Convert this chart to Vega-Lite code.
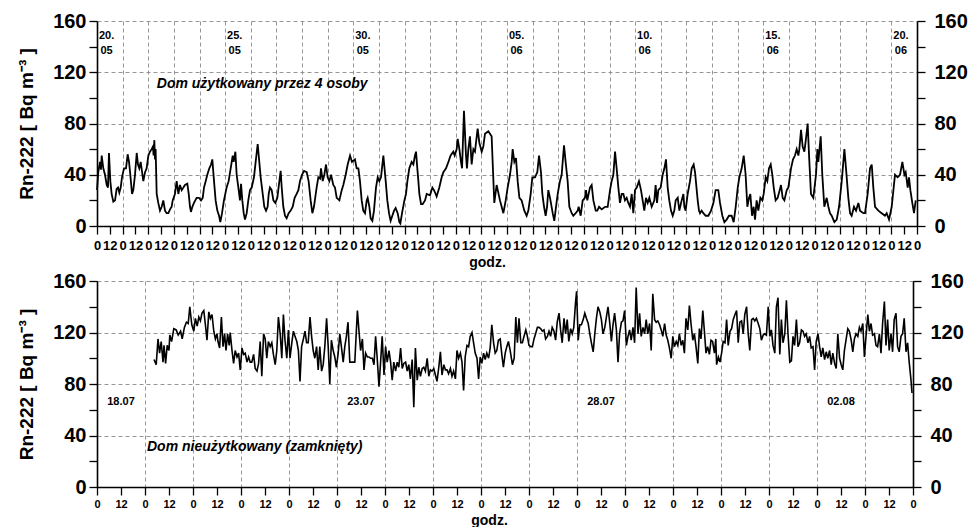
{
"$schema": "https://vega.github.io/schema/vega-lite/v6.json",
"padding": {"left": 17, "top": 11, "right": 0, "bottom": 0},
"spacing": 2,
"config": {
  "font": "Liberation Sans",
  "view": {"stroke": null},
  "axis": {"domainColor": "black", "domainWidth": 1.6, "tickColor": "black", "tickWidth": 1.3, "tickSize": 8, "labelColor": "black", "titleColor": "black", "labelFontWeight": "bold", "titleFontWeight": "bold", "gridColor": "#8a8a8a", "gridDash": [4, 3], "gridWidth": 0.9},
  "axisX": {"labelOverlap": false, "labelFlush": false, "tickCount": 100},
  "axisY": {"tickCount": 20}
},
"datasets": {
"top": [
{"h":0,"v":28},{"h":1.2,"v":42},{"h":2.8,"v":50},{"h":3.7,"v":44},{"h":4.4,"v":55},{"h":5.9,"v":45},{"h":7.5,"v":40},{"h":9.1,"v":32},{"h":10.3,"v":30},{"h":11.2,"v":57},{"h":12.5,"v":35},{"h":13.7,"v":25},{"h":15.3,"v":19},{"h":16.9,"v":20},{"h":18.4,"v":29},{"h":19.7,"v":30},{"h":20.9,"v":26},{"h":22.2,"v":30},{"h":23.4,"v":38},{"h":25.3,"v":45},{"h":27.2,"v":45},{"h":28.7,"v":56},{"h":30,"v":50},{"h":31.2,"v":40},{"h":32.8,"v":25},{"h":34,"v":28},{"h":35.6,"v":40},{"h":37.2,"v":57},{"h":38.4,"v":48},{"h":39.6,"v":45},{"h":40.9,"v":50},{"h":43.4,"v":35},{"h":45,"v":42},{"h":46.5,"v":45},{"h":48.1,"v":55},{"h":49.6,"v":58},{"h":51.2,"v":60},{"h":52.4,"v":62},{"h":53,"v":55},{"h":53.7,"v":67},{"h":54.3,"v":52},{"h":54.9,"v":60},{"h":55.9,"v":25},{"h":57.4,"v":18},{"h":59,"v":12},{"h":60.6,"v":15},{"h":62.1,"v":20},{"h":63.7,"v":12},{"h":65.2,"v":10},{"h":66.8,"v":10},{"h":68.4,"v":13},{"h":69.9,"v":15},{"h":70.9,"v":20},{"h":73,"v":25},{"h":74.6,"v":35},{"h":76.2,"v":25},{"h":77.7,"v":32},{"h":79.3,"v":28},{"h":80.9,"v":30},{"h":82.4,"v":32},{"h":84.6,"v":33},{"h":85.9,"v":25},{"h":87.1,"v":15},{"h":88,"v":11},{"h":89.3,"v":15},{"h":90.8,"v":18},{"h":93.3,"v":22},{"h":95.5,"v":22},{"h":97.4,"v":20},{"h":99,"v":22},{"h":100.2,"v":30},{"h":101.8,"v":35},{"h":103.3,"v":40},{"h":105.2,"v":45},{"h":106.8,"v":48},{"h":108,"v":52},{"h":109.6,"v":35},{"h":111.1,"v":20},{"h":112.7,"v":12},{"h":114.3,"v":8},{"h":115.5,"v":3},{"h":117.1,"v":10},{"h":118.9,"v":20},{"h":121.4,"v":30},{"h":123.3,"v":35},{"h":125.2,"v":45},{"h":127.1,"v":55},{"h":128,"v":50},{"h":129.6,"v":58},{"h":130.8,"v":40},{"h":132.4,"v":30},{"h":133.9,"v":20},{"h":134.9,"v":33},{"h":136.1,"v":20},{"h":137.4,"v":10},{"h":138.6,"v":5},{"h":140.2,"v":10},{"h":141.7,"v":20},{"h":143.3,"v":28},{"h":144.9,"v":30},{"h":147,"v":38},{"h":148.6,"v":50},{"h":150.5,"v":64},{"h":152,"v":50},{"h":153.3,"v":38},{"h":155.2,"v":25},{"h":156.7,"v":15},{"h":158.3,"v":12},{"h":159.8,"v":15},{"h":160.8,"v":25},{"h":162,"v":30},{"h":163.6,"v":28},{"h":165.2,"v":20},{"h":167,"v":18},{"h":168.9,"v":22},{"h":170.8,"v":35},{"h":172,"v":43},{"h":173,"v":30},{"h":174.5,"v":15},{"h":176.1,"v":8},{"h":177.6,"v":6},{"h":179.5,"v":10},{"h":181.4,"v":12},{"h":183.3,"v":15},{"h":185.1,"v":22},{"h":187,"v":25},{"h":188.6,"v":28},{"h":190.1,"v":35},{"h":192,"v":40},{"h":193.9,"v":43},{"h":196.4,"v":42},{"h":198.2,"v":35},{"h":200.1,"v":20},{"h":201.7,"v":10},{"h":203.2,"v":15},{"h":205.7,"v":30},{"h":207.3,"v":38},{"h":208.9,"v":37},{"h":209.8,"v":45},{"h":211.4,"v":35},{"h":212.9,"v":40},{"h":214.5,"v":48},{"h":216,"v":38},{"h":217.6,"v":35},{"h":219.2,"v":40},{"h":221.3,"v":32},{"h":222.9,"v":30},{"h":224.5,"v":22},{"h":227,"v":20},{"h":229.2,"v":28},{"h":230.7,"v":32},{"h":232.9,"v":40},{"h":234.8,"v":48},{"h":237,"v":55},{"h":238.8,"v":50},{"h":241.6,"v":52},{"h":243.2,"v":45},{"h":244.8,"v":45},{"h":246.3,"v":35},{"h":247.9,"v":20},{"h":249.4,"v":12},{"h":251,"v":10},{"h":252.6,"v":20},{"h":253.5,"v":22},{"h":255.1,"v":15},{"h":256.3,"v":6},{"h":257.9,"v":4},{"h":259.4,"v":12},{"h":261.3,"v":30},{"h":262.9,"v":38},{"h":264.4,"v":35},{"h":266,"v":38},{"h":268.2,"v":55},{"h":270.4,"v":35},{"h":271.9,"v":20},{"h":273.5,"v":10},{"h":275,"v":4},{"h":276.6,"v":8},{"h":278.2,"v":12},{"h":279.7,"v":14},{"h":281.6,"v":10},{"h":283.2,"v":3},{"h":284.1,"v":2},{"h":285.7,"v":10},{"h":287.9,"v":20},{"h":289.4,"v":25},{"h":290.7,"v":35},{"h":292.5,"v":45},{"h":294.7,"v":50},{"h":296.3,"v":48},{"h":297.8,"v":55},{"h":298.8,"v":58},{"h":300,"v":45},{"h":301,"v":35},{"h":301.9,"v":25},{"h":303.5,"v":17},{"h":305,"v":17},{"h":307.2,"v":20},{"h":308.8,"v":25},{"h":311.9,"v":24},{"h":314.1,"v":30},{"h":315.6,"v":28},{"h":317.2,"v":25},{"h":318.1,"v":23},{"h":320.6,"v":30},{"h":322.8,"v":38},{"h":324.4,"v":42},{"h":326.9,"v":45},{"h":329.1,"v":50},{"h":331.2,"v":55},{"h":333.7,"v":58},{"h":335,"v":55},{"h":336.9,"v":60},{"h":337.8,"v":68},{"h":339.4,"v":60},{"h":340.9,"v":50},{"h":341.9,"v":45},{"h":343.7,"v":90},{"h":345.6,"v":55},{"h":346.5,"v":45},{"h":347.8,"v":60},{"h":349.3,"v":70},{"h":350.9,"v":48},{"h":352.5,"v":60},{"h":354,"v":58},{"h":356.5,"v":76},{"h":358.1,"v":65},{"h":360.3,"v":58},{"h":361.8,"v":62},
{"h":363.4,"v":72},{"h":366.5,"v":74},{"h":369.6,"v":70},{"h":372.1,"v":18},{"h":374.3,"v":32},{"h":377.4,"v":20},{"h":379,"v":15},{"h":380.6,"v":10},{"h":382.8,"v":20},{"h":384.6,"v":30},{"h":386.8,"v":40},{"h":388.4,"v":50},{"h":389.3,"v":60},{"h":390.9,"v":50},{"h":392.4,"v":53},{"h":394,"v":35},{"h":395.6,"v":22},{"h":397.7,"v":20},{"h":400.2,"v":12},{"h":402.4,"v":8},{"h":404,"v":12},{"h":406.2,"v":25},{"h":407.7,"v":38},{"h":410.2,"v":38},{"h":412.4,"v":42},{"h":414,"v":55},{"h":415.8,"v":42},{"h":417.1,"v":25},{"h":418.7,"v":15},{"h":420.2,"v":8},{"h":421.5,"v":15},{"h":422.7,"v":28},{"h":424.3,"v":22},{"h":426.8,"v":10},{"h":428.3,"v":4},{"h":429.9,"v":15},{"h":431.5,"v":25},{"h":433.6,"v":35},{"h":435.2,"v":40},{"h":437.4,"v":63},{"h":438.9,"v":50},{"h":440.8,"v":35},{"h":442.4,"v":15},{"h":444.6,"v":10},{"h":446.1,"v":8},{"h":448.3,"v":10},{"h":450.2,"v":12},{"h":451.1,"v":15},{"h":453,"v":8},{"h":454.9,"v":20},{"h":457,"v":22},{"h":458,"v":28},{"h":459.2,"v":20},{"h":461.7,"v":30},{"h":463.3,"v":32},{"h":464.9,"v":20},{"h":467.1,"v":12},{"h":468.6,"v":12},{"h":470.2,"v":15},{"h":472.7,"v":13},{"h":475.8,"v":15},{"h":478.3,"v":15},{"h":480.5,"v":28},{"h":482,"v":35},{"h":483.6,"v":40},{"h":485.2,"v":58},{"h":486.7,"v":45},{"h":488.3,"v":30},{"h":489.8,"v":18},{"h":491.4,"v":25},{"h":493,"v":25},{"h":494.5,"v":20},{"h":496.1,"v":22},{"h":497.6,"v":18},{"h":499.2,"v":15},{"h":500.8,"v":25},{"h":502.3,"v":10},{"h":503.9,"v":28},{"h":505.5,"v":30},{"h":507.6,"v":35},{"h":509.5,"v":28},{"h":512.6,"v":12},{"h":514.2,"v":22},{"h":515.8,"v":18},{"h":517.3,"v":22},{"h":519.5,"v":15},{"h":522,"v":20},{"h":523.2,"v":32},{"h":524.5,"v":18},{"h":525.7,"v":28},{"h":527.9,"v":30},{"h":529.8,"v":40},{"h":531.4,"v":45},{"h":532.9,"v":52},{"h":534.5,"v":30},{"h":536,"v":20},{"h":537.6,"v":12},{"h":539.2,"v":8},{"h":540.7,"v":12},{"h":542,"v":20},{"h":543.9,"v":22},{"h":545.4,"v":12},{"h":547.6,"v":20},{"h":549.2,"v":25},{"h":550.1,"v":15},{"h":551.3,"v":12},{"h":553.2,"v":25},{"h":555.4,"v":35},{"h":557,"v":45},{"h":558.8,"v":48},{"h":560.1,"v":42},{"h":562.6,"v":20},{"h":563.8,"v":12},{"h":564.8,"v":10},{"h":566.3,"v":12},{"h":567.9,"v":10},{"h":570.1,"v":8},{"h":572.6,"v":8},{"h":575.1,"v":12},{"h":577.3,"v":18},{"h":579.4,"v":28},{"h":581.9,"v":28},{"h":583.5,"v":18},{"h":585.7,"v":8},{"h":587.6,"v":3},{"h":589.7,"v":5},{"h":591.9,"v":8},{"h":594.4,"v":8},{"h":596.3,"v":3},{"h":598.2,"v":15},{"h":600.1,"v":30},{"h":601.6,"v":38},{"h":603.8,"v":45},{"h":605.7,"v":55},{"h":607.5,"v":40},{"h":609.1,"v":15},{"h":610.7,"v":22},{"h":611.9,"v":25},{"h":613.5,"v":8},{"h":615,"v":15},{"h":616.3,"v":5},{"h":617.8,"v":20},{"h":619.4,"v":12},{"h":621.3,"v":22},{"h":623.1,"v":20},{"h":624.4,"v":25},{"h":626.3,"v":38},{"h":627.8,"v":35},{"h":629.4,"v":45},{"h":631,"v":48},{"h":632.5,"v":40},{"h":633.8,"v":30},{"h":635.6,"v":20},{"h":637.5,"v":22},{"h":639.4,"v":28},{"h":640.6,"v":32},{"h":642.2,"v":22},{"h":643.8,"v":20},{"h":646,"v":28},{"h":647.5,"v":30},{"h":650,"v":45},{"h":651.9,"v":52},{"h":653.7,"v":55},{"h":655.3,"v":60},{"h":656.9,"v":55},{"h":657.8,"v":60},{"h":659.4,"v":75},{"h":660.9,"v":62},{"h":662.5,"v":58},{"h":664,"v":68},{"h":665.6,"v":80},{"h":666.9,"v":55},{"h":668.7,"v":25},{"h":670.9,"v":22},{"h":673.4,"v":40},{"h":674.7,"v":60},{"h":675.6,"v":50},{"h":677.8,"v":70},{"h":679.3,"v":40},{"h":681.2,"v":15},{"h":683.4,"v":22},{"h":685,"v":15},{"h":686.5,"v":10},{"h":688.1,"v":8},{"h":690.6,"v":3},{"h":692.8,"v":5},{"h":695,"v":15},{"h":697.5,"v":35},{"h":700,"v":60},{"h":701.5,"v":45},{"h":703.7,"v":22},{"h":705.3,"v":10},{"h":706.8,"v":8},{"h":709,"v":15},{"h":710.9,"v":12},{"h":713.1,"v":18},{"h":714.6,"v":12},{"h":717.8,"v":10},{"h":719.3,"v":10},{"h":721.8,"v":25},{"h":724,"v":45},{"h":725.6,"v":48},{"h":727.1,"v":30},{"h":728.7,"v":15},{"h":731.8,"v":12},{"h":734.9,"v":10},{"h":738,"v":8},{"h":739.6,"v":10},{"h":741.8,"v":5},{"h":744.3,"v":15},{"h":747.4,"v":40},{"h":749.9,"v":38},{"h":752.1,"v":40},{"h":754.3,"v":50},{"h":756.2,"v":40},{"h":757.4,"v":42},{"h":759.3,"v":30},{"h":760.5,"v":38},{"h":761.8,"v":28},{"h":763.6,"v":18},{"h":765.2,"v":10},{"h":766.8,"v":20}
],
"bottom": [
{"h":28.5,"v":99},{"h":29.6,"v":95},{"h":30.5,"v":115},{"h":31.3,"v":104},{"h":32.1,"v":113},{"h":33,"v":97},{"h":33.5,"v":110},{"h":34.3,"v":96},{"h":35.1,"v":110},{"h":36,"v":106},{"h":36.4,"v":118},{"h":37.3,"v":113},{"h":38.4,"v":123},{"h":39.6,"v":122},{"h":40.6,"v":118},{"h":41.8,"v":121},{"h":42.6,"v":115},{"h":43.7,"v":124},{"h":44.7,"v":128},{"h":45.6,"v":127},{"h":46.4,"v":140},{"h":47.4,"v":126},{"h":48.4,"v":121},{"h":49.2,"v":131},{"h":50.1,"v":125},{"h":50.9,"v":132},{"h":51.7,"v":129},{"h":52.5,"v":135},{"h":53.4,"v":137},{"h":54.2,"v":126},{"h":55,"v":114},{"h":55.9,"v":136},{"h":56.7,"v":131},{"h":57.5,"v":134},{"h":58.4,"v":121},{"h":59.2,"v":115},{"h":60,"v":119},{"h":60.5,"v":113},{"h":61.3,"v":108},{"h":62.2,"v":132},{"h":63,"v":109},{"h":63.8,"v":119},{"h":64.5,"v":106},{"h":65.3,"v":119},{"h":66.1,"v":110},{"h":66.6,"v":120},{"h":67.5,"v":106},{"h":68.3,"v":96},{"h":69.1,"v":106},{"h":70,"v":101},{"h":70.8,"v":104},{"h":71.6,"v":91},{"h":72.5,"v":108},{"h":73.3,"v":103},{"h":74.1,"v":104},{"h":75,"v":97},{"h":75.8,"v":101},{"h":76.6,"v":97},{"h":77.4,"v":97},{"h":78.3,"v":103},{"h":79.1,"v":92},{"h":80,"v":90},{"h":80.8,"v":96},{"h":81.6,"v":113},{"h":82.4,"v":86},{"h":83.3,"v":119},{"h":84.1,"v":115},{"h":84.9,"v":100},{"h":85.7,"v":113},{"h":86.6,"v":109},{"h":87.4,"v":112},{"h":88.2,"v":103},{"h":89.1,"v":95},{"h":89.9,"v":106},{"h":90.7,"v":132},{"h":91.6,"v":119},{"h":92.4,"v":100},{"h":93.2,"v":134},{"h":94,"v":114},{"h":94.9,"v":100},{"h":95.7,"v":122},{"h":96.5,"v":100},{"h":97.4,"v":112},{"h":98.2,"v":121},{"h":99,"v":117},{"h":99.9,"v":113},{"h":100.7,"v":106},{"h":101.5,"v":82},{"h":102.3,"v":109},{"h":103.2,"v":115},{"h":104,"v":121},{"h":104.8,"v":112},
{"h":105.6,"v":112},{"h":106.5,"v":132},{"h":107.3,"v":117},{"h":108.1,"v":106},{"h":108.9,"v":100},{"h":109.8,"v":109},{"h":110.6,"v":91},{"h":111.4,"v":109},{"h":112.3,"v":90},{"h":113.1,"v":95},{"h":113.9,"v":109},{"h":114.8,"v":131},{"h":115.6,"v":109},{"h":116.4,"v":80},{"h":117.2,"v":114},{"h":118.1,"v":106},{"h":118.9,"v":101},{"h":119.7,"v":93},{"h":120.6,"v":104},{"h":121.4,"v":119},{"h":122.2,"v":109},{"h":123.1,"v":97},{"h":123.9,"v":109},{"h":124.7,"v":117},{"h":125.5,"v":128},{"h":126.4,"v":97},{"h":127.2,"v":97},{"h":128,"v":97},{"h":128.9,"v":97},{"h":129.7,"v":122},{"h":130.2,"v":137},{"h":131,"v":121},{"h":131.8,"v":106},{"h":132.7,"v":115},{"h":133.5,"v":91},{"h":134.3,"v":104},{"h":135.2,"v":101},{"h":136,"v":101},{"h":136.8,"v":100},{"h":137.7,"v":100},{"h":138.5,"v":95},{"h":139.3,"v":117},{"h":140.1,"v":100},{"h":141,"v":78},{"h":141.8,"v":97},{"h":142.6,"v":117},{"h":143.5,"v":87},{"h":144.3,"v":109},{"h":145.1,"v":97},{"h":146,"v":106},{"h":146.8,"v":97},{"h":147.6,"v":83},{"h":148.4,"v":97},{"h":149.3,"v":90},{"h":150.1,"v":97},{"h":150.9,"v":93},{"h":151.8,"v":108},{"h":152.6,"v":92},{"h":153.4,"v":96},{"h":154.3,"v":97},{"h":155.1,"v":90},{"h":155.9,"v":95},{"h":156.7,"v":84},{"h":157.6,"v":99},{"h":158.4,"v":62},{"h":159.2,"v":108},{"h":160.1,"v":83},{"h":160.9,"v":93},{"h":161.7,"v":86},{"h":162.6,"v":92},{"h":163.4,"v":93},{"h":164.2,"v":90},{"h":165.1,"v":100},{"h":165.9,"v":86},{"h":166.7,"v":91},{"h":167.5,"v":90},{"h":168.4,"v":92},{"h":169.2,"v":87},{"h":170,"v":82},{"h":170.9,"v":93},{"h":171.7,"v":105},{"h":172.5,"v":87},{"h":173.4,"v":95},{"h":174.2,"v":91},{"h":175,"v":91},{"h":175.8,"v":88},{"h":176.7,"v":92},{"h":177.5,"v":86},{"h":178.3,"v":90},{"h":179.2,"v":84},{"h":180,"v":106},{"h":180.8,"v":100},{"h":181.7,"v":104},{"h":182.5,"v":97},{"h":183.3,"v":75},{"h":184.1,"v":101},{"h":185,"v":110},{"h":185.8,"v":109},{"h":186.6,"v":117},{"h":187.5,"v":120},{"h":188.3,"v":112},{"h":189.1,"v":104},{"h":190,"v":100},{"h":190.8,"v":84},{"h":191.6,"v":101},{"h":192.4,"v":96},{"h":193.3,"v":104},{"h":194.1,"v":99},{"h":194.9,"v":104},{"h":195.8,"v":100},{"h":196.6,"v":108},{"h":197.4,"v":126},{"h":198.3,"v":112},{"h":199.1,"v":104},{"h":199.9,"v":106},{"h":200.7,"v":114},{"h":201.6,"v":115},{"h":202.4,"v":103},{"h":203.2,"v":93},{"h":204.1,"v":104},{"h":204.9,"v":109},{"h":205.7,"v":113},{"h":206.6,"v":106},
{"h":207.7,"v":95},{"h":208.6,"v":100},{"h":209.4,"v":132},{"h":210.2,"v":112},{"h":211,"v":131},{"h":211.9,"v":112},{"h":212.7,"v":112},{"h":213.5,"v":117},{"h":214.4,"v":122},{"h":215.2,"v":117},{"h":216,"v":110},{"h":216.9,"v":109},{"h":217.7,"v":109},{"h":218.5,"v":115},{"h":219.3,"v":119},{"h":220.2,"v":124},{"h":221,"v":124},{"h":221.8,"v":123},{"h":222.7,"v":121},{"h":223.5,"v":122},{"h":224.3,"v":115},{"h":225.2,"v":117},{"h":226,"v":121},{"h":226.8,"v":117},{"h":227.6,"v":124},{"h":228.5,"v":121},{"h":229.3,"v":114},{"h":230.1,"v":128},{"h":231,"v":135},{"h":231.8,"v":122},{"h":232.6,"v":112},{"h":233.5,"v":131},{"h":234.3,"v":119},{"h":235.1,"v":130},{"h":235.9,"v":113},{"h":236.8,"v":123},{"h":237.6,"v":119},{"h":238.4,"v":124},{"h":239.3,"v":144},{"h":239.8,"v":152},{"h":240.6,"v":114},{"h":241.4,"v":126},{"h":242.2,"v":126},{"h":243.1,"v":130},{"h":243.9,"v":135},{"h":244.7,"v":131},{"h":245.6,"v":127},{"h":246.4,"v":119},{"h":247.2,"v":112},{"h":248.1,"v":105},{"h":248.9,"v":119},{"h":249.7,"v":131},{"h":250.5,"v":140},{"h":251.4,"v":136},{"h":252.2,"v":130},{"h":253,"v":119},{"h":253.9,"v":124},{"h":254.7,"v":132},{"h":255.5,"v":140},{"h":256.4,"v":127},{"h":257.2,"v":113},{"h":258,"v":126},{"h":258.8,"v":135},{"h":259.7,"v":122},{"h":260.5,"v":97},{"h":261.3,"v":119},{"h":262.2,"v":128},{"h":263,"v":129},{"h":263.8,"v":137},{"h":264.7,"v":110},{"h":265.5,"v":117},{"h":266.3,"v":122},{"h":267.1,"v":114},{"h":268,"v":124},{"h":268.8,"v":112},{"h":269.6,"v":155},{"h":270.5,"v":119},{"h":271.3,"v":135},{"h":272.1,"v":117},{"h":273,"v":124},{"h":273.8,"v":119},{"h":274.6,"v":130},{"h":275.4,"v":119},{"h":276.3,"v":127},{"h":277.1,"v":106},{"h":277.9,"v":150},{"h":278.8,"v":130},{"h":279.6,"v":128},{"h":280.4,"v":129},{"h":281.3,"v":126},{"h":282.1,"v":122},{"h":282.9,"v":117},{"h":283.8,"v":127},{"h":284.6,"v":118},{"h":285.4,"v":114},{"h":286.2,"v":108},{"h":287.1,"v":100},{"h":287.9,"v":117},{"h":288.7,"v":109},{"h":289.6,"v":113},{"h":290.4,"v":110},{"h":291.2,"v":119},{"h":292.1,"v":110},{"h":292.9,"v":114},{"h":293.7,"v":104},{"h":294.5,"v":131},{"h":295.4,"v":122},{"h":296.2,"v":141},{"h":297,"v":127},{"h":297.9,"v":114},{"h":298.7,"v":119},{"h":299.5,"v":109},{"h":300.4,"v":96},{"h":301.2,"v":123},{"h":302,"v":115},{"h":302.9,"v":137},{"h":303.7,"v":121},{"h":304.5,"v":104},{"h":305.3,"v":109},{"h":306.2,"v":103},{"h":307,"v":114},{"h":307.8,"v":113},{"h":308.7,"v":104},
{"h":309.4,"v":115},{"h":309.8,"v":95},{"h":310.7,"v":101},{"h":311.5,"v":97},{"h":312.3,"v":104},{"h":313.1,"v":113},{"h":314,"v":112},{"h":314.8,"v":130},{"h":315.6,"v":110},{"h":316.5,"v":121},{"h":317.3,"v":123},{"h":318.1,"v":130},{"h":319,"v":134},{"h":319.8,"v":137},{"h":320.6,"v":112},{"h":321.4,"v":128},{"h":322.3,"v":129},{"h":323.1,"v":119},{"h":323.9,"v":134},{"h":324.8,"v":140},{"h":325.6,"v":119},{"h":326.4,"v":106},{"h":327.3,"v":130},{"h":328.1,"v":131},{"h":328.9,"v":129},{"h":329.7,"v":131},{"h":330.6,"v":127},{"h":331.4,"v":123},{"h":332.2,"v":114},{"h":333.1,"v":118},{"h":333.9,"v":119},{"h":334.7,"v":118},{"h":335.6,"v":140},{"h":336.4,"v":117},{"h":337.2,"v":122},{"h":338,"v":110},{"h":338.9,"v":104},{"h":339.7,"v":140},{"h":340.5,"v":147},{"h":341.4,"v":103},{"h":342.2,"v":130},{"h":343,"v":112},{"h":343.9,"v":119},{"h":344.7,"v":145},{"h":345.5,"v":119},{"h":346.4,"v":97},{"h":347.2,"v":98},{"h":348,"v":117},{"h":348.8,"v":110},{"h":349.7,"v":130},{"h":350.5,"v":109},{"h":351.3,"v":112},{"h":352.2,"v":122},{"h":353,"v":121},{"h":353.8,"v":117},{"h":354.6,"v":119},{"h":355.5,"v":112},{"h":356.3,"v":117},{"h":357.1,"v":108},{"h":358,"v":109},{"h":358.8,"v":91},{"h":359.6,"v":113},{"h":360.5,"v":119},{"h":361.3,"v":109},{"h":362.1,"v":101},{"h":362.9,"v":108},{"h":363.8,"v":99},{"h":364.6,"v":105},{"h":365.4,"v":100},{"h":366.3,"v":106},{"h":367.1,"v":95},{"h":367.9,"v":104},{"h":368.8,"v":96},{"h":369.6,"v":92},{"h":370.4,"v":119},{"h":371.3,"v":100},{"h":372.1,"v":95},{"h":372.9,"v":91},{"h":373.7,"v":106},{"h":374.6,"v":115},{"h":375.4,"v":123},{"h":376.2,"v":121},{"h":377.1,"v":114},{"h":377.9,"v":105},{"h":378.7,"v":115},{"h":379.5,"v":119},{"h":380.4,"v":117},{"h":381.2,"v":124},{"h":382,"v":121},{"h":382.9,"v":127},{"h":383.7,"v":101},{"h":384.5,"v":117},{"h":385.4,"v":134},{"h":386.2,"v":121},{"h":387,"v":127},{"h":387.8,"v":118},{"h":388.7,"v":119},{"h":389.5,"v":110},{"h":390.3,"v":109},{"h":391.2,"v":119},{"h":392,"v":104},{"h":392.8,"v":127},{"h":393.7,"v":144},{"h":394.5,"v":110},{"h":395.3,"v":130},{"h":396.1,"v":106},{"h":397,"v":119},{"h":397.8,"v":105},{"h":398.6,"v":130},{"h":399.5,"v":135},{"h":400.3,"v":109},{"h":401.1,"v":105},{"h":402,"v":117},{"h":402.8,"v":119},{"h":403.6,"v":131},{"h":404.5,"v":105},{"h":405.3,"v":112},{"h":406.1,"v":97},{"h":407,"v":83},{"h":407.5,"v":73}
],
"topDates": [
{"h":9,"v":148,"label":"20.\n05"},{"h":129,"v":148,"label":"25.\n05"},{"h":249,"v":148,"label":"30.\n05"},{"h":393,"v":148,"label":"05.\n06"},{"h":513,"v":148,"label":"10.\n06"},{"h":633,"v":148,"label":"15.\n06"},{"h":753,"v":148,"label":"20.\n06"}
],
"botDates": [
{"h":12,"v":66,"label":"18.07"},{"h":132,"v":66,"label":"23.07"},{"h":252,"v":66,"label":"28.07"},{"h":372,"v":66,"label":"02.08"}
],
"topNote": [{"h":56,"v":111,"label":"Dom użytkowany przez 4 osoby"}],
"botNote": [{"h":25,"v":31,"label":"Dom nieużytkowany (zamknięty)"}]
},
"vconcat": [
{
 "width": 820, "height": 205,
 "layer": [
  {"data": {"name": "top"},
   "mark": {"type": "line", "color": "black", "strokeWidth": 1.8},
   "encoding": {
    "x": {"field": "h", "type": "quantitative", "scale": {"domain": [0, 768], "nice": false, "zero": false},
      "axis": {"title": "godz.", "values": [0,12,24,36,48,60,72,84,96,108,120,132,144,156,168,180,192,204,216,228,240,252,264,276,288,300,312,324,336,348,360,372,384,396,408,420,432,444,456,468,480,492,504,516,528,540,552,564,576,588,600,612,624,636,648,660,672,684,696,708,720,732,744,756,768],
        "tickCount": 100, "labelExpr": "datum.value % 24 === 0 ? '0' : '12'", "labelFlush": false, "labelOverlap": false, "labelFontSize": 13, "labelPadding": 5,
        "grid": true, "gridOpacity": {"condition": {"test": "datum.value % 24 === 0", "value": 1}, "value": 0},
        "titleFontSize": 14, "titlePadding": 3, "titleX": 390}},
    "y": {"field": "v", "type": "quantitative", "scale": {"domain": [0, 160], "nice": false},
      "axis": {"title": "Rn-222 [ Bq m⁻³ ]", "values": [0,20,40,60,80,100,120,140,160], "tickCount": 20, "labelExpr": "datum.value % 40 === 0 ? datum.label : ''",
        "labelFontSize": 20, "labelPadding": 3, "titleFontSize": 19, "titlePadding": 16,
        "grid": true, "gridOpacity": {"condition": {"test": "datum.value % 40 === 0", "value": 1}, "value": 0}}}
   }},
  {"data": {"name": "top"},
   "mark": {"type": "line", "strokeOpacity": 0},
   "encoding": {
    "x": {"field": "h", "type": "quantitative"},
    "y": {"field": "v", "type": "quantitative",
      "axis": {"orient": "right", "title": null, "values": [0,20,40,60,80,100,120,140,160], "tickCount": 20, "labelExpr": "datum.value % 40 === 0 ? datum.label : ''", "labelFontSize": 20, "labelPadding": 9, "grid": false}}
   }},
  {"data": {"name": "topDates"},
   "mark": {"type": "text", "fontSize": 11, "fontWeight": "bold", "lineBreak": "\n", "lineHeight": 15, "align": "center", "baseline": "middle", "color": "black"},
   "encoding": {"x": {"field": "h", "type": "quantitative"}, "y": {"field": "v", "type": "quantitative", "axis": null}, "text": {"field": "label"}}},
  {"data": {"name": "topNote"},
   "mark": {"type": "text", "fontSize": 14, "fontWeight": "bold", "fontStyle": "italic", "align": "left", "baseline": "middle", "color": "black"},
   "encoding": {"x": {"field": "h", "type": "quantitative"}, "y": {"field": "v", "type": "quantitative", "axis": null}, "text": {"field": "label"}}}
 ],
 "resolve": {"axis": {"y": "independent"}}
},
{
 "width": 816, "height": 206,
 "layer": [
  {"data": {"name": "bottom"},
   "mark": {"type": "line", "color": "black", "strokeWidth": 1.6},
   "encoding": {
    "x": {"field": "h", "type": "quantitative", "scale": {"domain": [0, 408], "nice": false, "zero": false},
      "axis": {"title": "godz.", "values": [0,12,24,36,48,60,72,84,96,108,120,132,144,156,168,180,192,204,216,228,240,252,264,276,288,300,312,324,336,348,360,372,384,396,408],
        "tickCount": 100, "labelExpr": "datum.value % 24 === 0 ? '0' : '12'", "labelFlush": false, "labelOverlap": false, "labelFontSize": 11, "labelPadding": 3,
        "grid": true, "gridOpacity": {"condition": {"test": "datum.value % 24 === 0", "value": 1}, "value": 0},
        "titleFontSize": 14, "titlePadding": 4, "titleX": 392}},
    "y": {"field": "v", "type": "quantitative", "scale": {"domain": [0, 160], "nice": false},
      "axis": {"title": "Rn-222 [ Bq m⁻³ ]", "values": [0,20,40,60,80,100,120,140,160], "tickCount": 20, "labelExpr": "datum.value % 40 === 0 ? datum.label : ''",
        "labelFontSize": 20, "labelPadding": 3, "titleFontSize": 19, "titlePadding": 16,
        "grid": true, "gridOpacity": {"condition": {"test": "datum.value % 40 === 0", "value": 1}, "value": 0}}}
   }},
  {"data": {"name": "bottom"},
   "mark": {"type": "line", "strokeOpacity": 0},
   "encoding": {
    "x": {"field": "h", "type": "quantitative"},
    "y": {"field": "v", "type": "quantitative",
      "axis": {"orient": "right", "title": null, "values": [0,20,40,60,80,100,120,140,160], "tickCount": 20, "labelExpr": "datum.value % 40 === 0 ? datum.label : ''", "labelFontSize": 20, "labelPadding": 9, "grid": false}}
   }},
  {"data": {"name": "botDates"},
   "mark": {"type": "text", "fontSize": 11, "fontWeight": "bold", "align": "center", "baseline": "middle", "color": "black"},
   "encoding": {"x": {"field": "h", "type": "quantitative"}, "y": {"field": "v", "type": "quantitative", "axis": null}, "text": {"field": "label"}}},
  {"data": {"name": "botNote"},
   "mark": {"type": "text", "fontSize": 14, "fontWeight": "bold", "fontStyle": "italic", "align": "left", "baseline": "middle", "color": "black"},
   "encoding": {"x": {"field": "h", "type": "quantitative"}, "y": {"field": "v", "type": "quantitative", "axis": null}, "text": {"field": "label"}}}
 ],
 "resolve": {"axis": {"y": "independent"}}
}
]
}
